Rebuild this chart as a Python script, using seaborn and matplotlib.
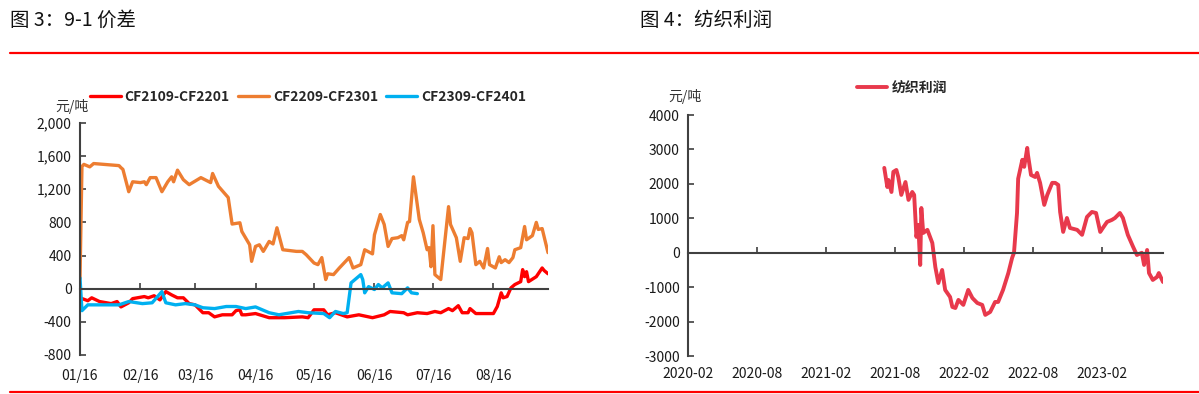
import pandas as pd
import matplotlib
matplotlib.use("Agg")
import matplotlib.pyplot as plt
import matplotlib.dates as mdates
import matplotlib.ticker as mticker
from matplotlib.lines import Line2D
import seaborn as sns

sns.set_theme(style="white")
plt.rcParams['font.family'] = ['Noto Sans CJK SC', 'DejaVu Sans']
plt.rcParams['axes.unicode_minus'] = False

# ---- 图3: 9-1 价差 (month/day, values in 元/吨) ----
cf2109_dates = ["01-16", "01-20", "01-22", "01-26", "02-01", "02-04", "02-06", "02-10", "02-12",
                "02-18", "02-20", "02-23", "02-26", "03-01", "03-04", "03-07", "03-10", "03-13",
                "03-16", "03-20", "03-23", "03-26", "03-30", "04-04", "04-06", "04-08", "04-09",
                "04-11", "04-16", "04-23", "05-01", "05-10", "05-13", "05-16", "05-21", "05-23",
                "05-27", "06-02", "06-08", "06-15", "06-21", "06-24", "07-01", "07-03", "07-08",
                "07-13", "07-17", "07-20", "07-24", "07-26", "07-29", "07-31", "08-03", "08-04",
                "08-07", "08-16", "08-18", "08-20", "08-21", "08-23", "08-25", "08-27", "08-30",
                "08-31", "09-01", "09-02", "09-03", "09-07", "09-10", "09-11", "09-13"]
cf2109_vals = [-110, -145, -110, -155, -180, -155, -220, -170, -120,
               -95, -110, -85, -135, -35, -75, -110, -110, -180,
               -195, -290, -290, -340, -315, -315, -265, -255, -315,
               -315, -300, -350, -350, -340, -350, -255, -255, -315,
               -290, -340, -315, -350, -315, -275, -290, -315, -290,
               -300, -275, -290, -240, -265, -205, -290, -290, -240,
               -300, -300, -215, -50, -110, -95, 10, 50, 85,
               230, 145, 205, 85, 145, 250, 220, 180]

cf2209_dates = ["01-16", "01-17", "01-18", "01-21", "01-23", "02-05", "02-06", "02-07", "02-10",
                "02-12", "02-16", "02-18", "02-19", "02-21", "02-24", "02-27", "03-02", "03-04",
                "03-05", "03-07", "03-10", "03-13", "03-19", "03-24", "03-25", "03-28", "04-02",
                "04-04", "04-08", "04-09", "04-13", "04-14", "04-16", "04-18", "04-20", "04-23",
                "04-25", "04-27", "04-30", "05-07", "05-10", "05-12", "05-16", "05-18", "05-20",
                "05-22", "05-23", "05-26", "05-29", "06-03", "06-05", "06-09", "06-11", "06-15",
                "06-16", "06-19", "06-21", "06-23", "06-25", "06-28", "06-30", "07-01", "07-03",
                "07-04", "07-06", "07-09", "07-11", "07-13", "07-14", "07-15", "07-16", "07-17",
                "07-20", "07-24", "07-25", "07-28", "07-30", "08-01", "08-03", "08-04", "08-05",
                "08-07", "08-09", "08-11", "08-13", "08-14", "08-17", "08-19", "08-20", "08-22",
                "08-24", "08-26", "08-27", "08-30", "09-01", "09-02", "09-05", "09-07", "09-08",
                "09-10", "09-13"]
cf2209_vals = [120, 1475, 1500, 1470, 1510, 1485, 1460, 1440, 1170,
               1290, 1280, 1290, 1255, 1340, 1340, 1170, 1290, 1350,
               1290, 1430, 1315, 1255, 1340, 1280, 1390, 1235, 1100,
               780, 795, 690, 530, 330, 510, 530, 450, 570,
               540, 735, 470, 450, 450, 410, 310, 290, 375,
               110, 180, 170, 250, 375, 250, 290, 470, 420,
               650, 895, 775, 510, 605, 615, 640, 590, 800,
               810, 1350, 835, 675, 470, 495, 265, 760, 170,
               110, 990, 775, 615, 330, 615, 605, 725, 675,
               290, 330, 250, 485, 290, 250, 385, 315, 350,
               315, 375, 470, 495, 750, 590, 640, 800, 715,
               725, 435]

cf2309_dates = ["01-16", "01-17", "01-20", "01-27", "02-05", "02-10", "02-17", "02-22", "02-27",
                "03-01", "03-06", "03-11", "03-16", "03-20", "03-26", "04-01", "04-06", "04-09",
                "04-11", "04-16", "04-23", "04-28", "05-08", "05-13", "05-21", "05-24", "05-27",
                "05-31", "06-02", "06-04", "06-06", "06-09", "06-10", "06-11", "06-13", "06-16",
                "06-18", "06-20", "06-23", "06-25", "06-30", "07-03", "07-05", "07-08"]
cf2309_vals = [130, -265, -195, -195, -195, -155, -180, -170, -35,
               -170, -195, -180, -195, -230, -240, -215, -215, -230,
               -240, -220, -290, -315, -275, -290, -300, -350, -275,
               -300, -290, 70, 110, 170, 110, -50, 25, -10,
               50, 10, 70, -50, -60, 10, -50, -60]

spread_names = ["CF2109-CF2201", "CF2209-CF2301", "CF2309-CF2401"]
spread_colors = ["#FF0000", "#ED7D31", "#00B0F0"]
spread_ticks = ["01-16", "02-16", "03-16", "04-16", "05-16", "06-16", "07-16", "08-16"]

# ---- 图4: 纺织利润 ----
profit_dates = ["2021-07-04", "2021-07-12", "2021-07-15", "2021-07-23", "2021-07-28", "2021-08-05",
                "2021-08-10", "2021-08-18", "2021-08-29", "2021-09-06", "2021-09-16", "2021-09-21",
                "2021-09-27", "2021-10-02", "2021-10-07", "2021-10-10", "2021-10-15", "2021-10-26",
                "2021-11-08", "2021-11-16", "2021-11-24", "2021-12-04", "2021-12-12", "2021-12-25",
                "2021-12-31", "2022-01-08", "2022-01-16", "2022-01-29", "2022-02-11", "2022-02-22",
                "2022-03-07", "2022-03-20", "2022-03-28", "2022-04-10", "2022-04-23", "2022-05-01",
                "2022-05-14", "2022-05-28", "2022-06-07", "2022-06-12", "2022-06-20", "2022-06-23",
                "2022-07-04", "2022-07-09", "2022-07-17", "2022-07-19", "2022-07-27", "2022-08-07",
                "2022-08-12", "2022-08-20", "2022-08-31", "2022-09-08", "2022-09-21", "2022-09-29",
                "2022-10-07", "2022-10-12", "2022-10-20", "2022-10-30", "2022-11-07", "2022-11-26",
                "2022-12-09", "2022-12-22", "2023-01-04", "2023-01-15", "2023-01-26", "2023-02-02",
                "2023-02-13", "2023-02-26", "2023-03-06", "2023-03-19", "2023-03-27", "2023-04-09",
                "2023-04-23", "2023-05-03", "2023-05-16", "2023-05-22", "2023-05-30", "2023-06-04",
                "2023-06-14", "2023-06-25", "2023-06-30", "2023-07-11"]
profit_vals = [2465, 1910, 2115, 1765, 2350, 2405,
               2200, 1680, 2055, 1535, 1765, 1680,
               460, 810, -355, 1300, 575, 665,
               285, -415, -880, -500, -1080, -1285,
               -1575, -1605, -1370, -1515, -1080, -1315,
               -1460, -1515, -1805, -1720, -1430, -1430,
               -1080, -590, -150, 0, 1155, 2150,
               2700, 2495, 3045, 2840, 2260, 2200,
               2320, 2030, 1390, 1680, 2030, 2030,
               1970, 1185, 605, 1010, 720, 665,
               520, 1040, 1185, 1155, 605, 720,
               895, 955, 1010, 1155, 1010, 520,
               170, -65, 0, -355, 80, -590,
               -790, -705, -590, -850]
profit_ticks = ["2020-02-01", "2020-08-01", "2021-02-01", "2021-08-01",
                "2022-02-01", "2022-08-01", "2023-02-01"]

fig = plt.figure(figsize=(11.99, 3.94), dpi=100)
axis_col = "#404040"

def style_axes(ax, pad):
    for s in ["top", "right"]:
        ax.spines[s].set_visible(False)
    ax.spines["bottom"].set_position(("data", 0))
    for s in ["left", "bottom"]:
        ax.spines[s].set_color(axis_col)
        ax.spines[s].set_linewidth(1.5)
    ax.tick_params(axis="both", direction="in", length=4, width=1.2, color=axis_col,
                   labelsize=10, labelcolor="#1a1a1a", left=True, bottom=True)
    ax.tick_params(axis="y", pad=6)
    ax.tick_params(axis="x", pad=pad)
    ax.set_xlabel("")
    ax.set_ylabel("")
    ax.grid(False)

# left chart
ax1 = fig.add_axes([80 / 1199, 0.099, 468 / 1199, 0.589])
series = [(cf2109_dates, cf2109_vals), (cf2209_dates, cf2209_vals), (cf2309_dates, cf2309_vals)]
for (d, v), name, col in zip(series, spread_names, spread_colors):
    df = pd.DataFrame({"date": pd.to_datetime(["2021-" + x for x in d]), "val": v})
    sns.lineplot(data=df, x="date", y="val", ax=ax1, color=col, linewidth=2.4, label=name)
ax1.set_xlim(pd.Timestamp("2021-01-16"), pd.Timestamp("2021-09-13"))
ax1.set_ylim(-800, 2000)
ax1.set_yticks(range(-800, 2001, 400))
ax1.yaxis.set_major_formatter(mticker.StrMethodFormatter("{x:,.0f}"))
ax1.set_xticks(pd.to_datetime(["2021-" + x for x in spread_ticks]))
ax1.xaxis.set_major_formatter(mdates.DateFormatter("%m/%d"))
style_axes(ax1, 58)
ax1.legend(loc="center", bbox_to_anchor=(308 / 1199, 1 - 97 / 394), bbox_transform=fig.transFigure,
           ncol=3, frameon=False, handlelength=2.2, handletextpad=0.3, columnspacing=0.6,
           prop={"weight": "bold", "size": 10})

# right chart
ax2 = fig.add_axes([688 / 1199, 0.0964, 475 / 1199, 0.6116])
dfp = pd.DataFrame({"date": pd.to_datetime(profit_dates), "val": profit_vals})
sns.lineplot(data=dfp, x="date", y="val", ax=ax2, color="#E8394C", linewidth=2.8, label="纺织利润")
ax2.set_xlim(pd.Timestamp("2020-02-01"), pd.Timestamp("2023-07-11"))
ax2.set_ylim(-3000, 4000)
ax2.set_yticks(range(-3000, 4001, 1000))
ax2.set_xticks(pd.to_datetime(profit_ticks))
ax2.xaxis.set_major_formatter(mdates.DateFormatter("%Y-%m"))
style_axes(ax2, 82)
ax2.legend(loc="center", bbox_to_anchor=(902 / 1199, 1 - 88 / 394), bbox_transform=fig.transFigure,
           frameon=False, handlelength=2.2, handletextpad=0.3, prop={"weight": "bold", "size": 10})

# titles, units and red rules
fig.text(10 / 1199, 1 - 20 / 394, "图 3：9-1 价差", fontsize=14, va="center", ha="left", color="#111111")
fig.text(640 / 1199, 1 - 20 / 394, "图 4：纺织利润", fontsize=14, va="center", ha="left", color="#111111")
fig.text(72 / 1199, 1 - 106 / 394, "元/吨", fontsize=10, va="center", ha="center", color="#333333")
fig.text(685 / 1199, 1 - 97 / 394, "元/吨", fontsize=10, va="center", ha="center", color="#333333")
for yy in [1 - 53 / 394, 1 - 392 / 394]:
    fig.add_artist(Line2D([10 / 1199, 1.0], [yy, yy], transform=fig.transFigure, color="#FF0000", lw=1.6))

fig.savefig("out.png", dpi=100)
